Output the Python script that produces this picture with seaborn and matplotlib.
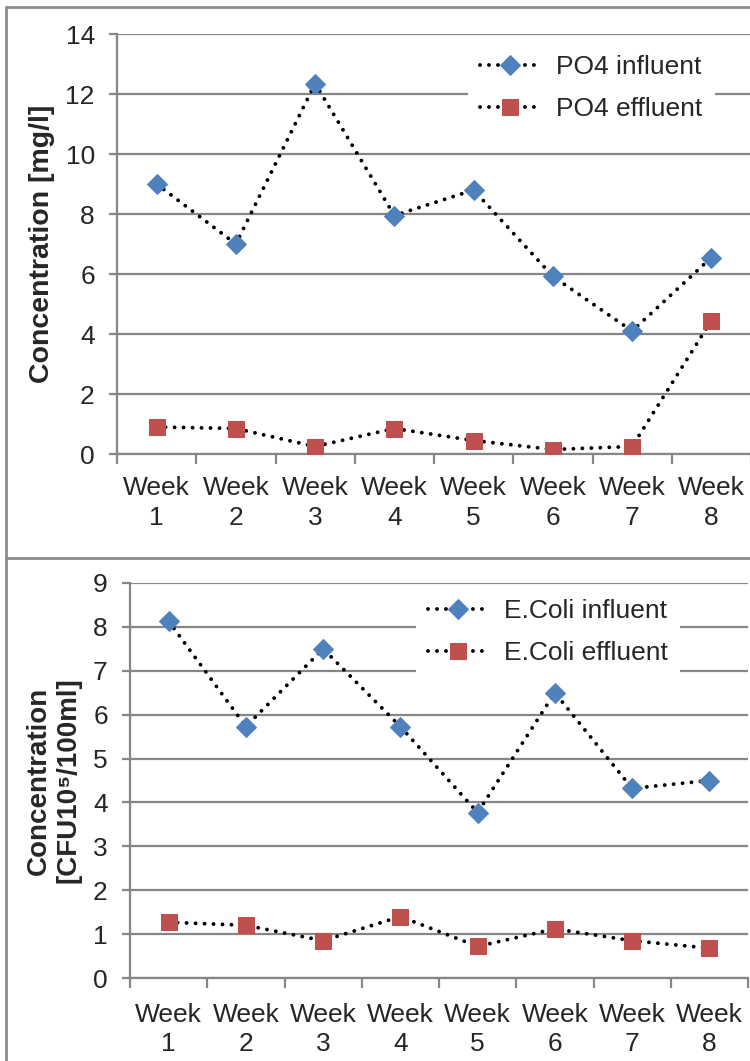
import matplotlib
matplotlib.use("Agg")
import matplotlib.pyplot as plt
import seaborn as sns
from matplotlib.lines import Line2D

sns.set_style("white")
plt.rcParams['font.family'] = ['Liberation Sans', 'DejaVu Sans']

weeks = ["Week\n1", "Week\n2", "Week\n3", "Week\n4", "Week\n5", "Week\n6", "Week\n7", "Week\n8"]
po4_influent = [9.0, 7.0, 12.35, 7.95, 8.8, 5.92, 4.1, 6.55]
po4_effluent = [0.9, 0.85, 0.25, 0.85, 0.45, 0.15, 0.25, 4.45]
ecoli_influent = [8.13, 5.73, 7.5, 5.73, 3.77, 6.5, 4.32, 4.5]
ecoli_effluent = [1.27, 1.2, 0.85, 1.4, 0.72, 1.12, 0.85, 0.68]

BLUE = "#4F81BD"
RED = "#C0504D"
GRID = "#868686"
FS = 19

fig = plt.figure(figsize=(7.5, 10.61), dpi=100)
W, H = 750, 1061

def fx(px):
    return px / W

def fy(py):
    return 1 - py / H

def make_panel(rect, infl, effl, labels, ymax, ystep, ylabel, ylfs, leg_anchor, ylabel_x, xpad):
    ax = fig.add_axes(rect)
    x = list(range(len(weeks)))
    for vals, col, mk, ms, lab in [(infl, BLUE, "D", 10.5, labels[0]), (effl, RED, "s", 11.5, labels[1])]:
        sns.lineplot(x=x, y=vals, ax=ax, color="black", linestyle=(0, (0.01, 2.3)),
                     linewidth=2.8, marker=mk, markersize=ms, markerfacecolor=col,
                     markeredgecolor=col, label=lab, dash_capstyle="round", zorder=3)
    ax.set_xlim(-0.5, len(weeks) - 0.5)
    ax.set_ylim(0, ymax)
    ax.set_yticks(range(0, ymax + 1, ystep))
    ax.yaxis.grid(True, color=GRID, linewidth=1.6)
    ax.xaxis.grid(False)
    ax.set_xticks([i - 0.5 for i in range(len(weeks) + 1)])
    ax.set_xticklabels([])
    ax.set_xticks(x, minor=True)
    ax.set_xticklabels(weeks, minor=True, fontsize=FS, linespacing=1.28)
    ax.tick_params(axis="x", which="major", length=7, width=1.6, color=GRID, direction="out", bottom=True)
    ax.tick_params(axis="x", which="minor", length=0, pad=xpad, bottom=True)
    ax.tick_params(axis="y", length=6, width=1.6, color=GRID, direction="out", left=True, labelsize=FS, pad=10)
    for s in ["top", "right"]:
        ax.spines[s].set_visible(False)
    for s in ["left", "bottom"]:
        ax.spines[s].set_color(GRID)
        ax.spines[s].set_linewidth(1.6)
    ax.set_ylabel("")
    fig.text(ylabel_x, rect[1] + rect[3] / 2, ylabel, rotation=90, fontsize=ylfs,
             fontweight="bold", ha="center", va="center", linespacing=1.2)
    leg = ax.legend(loc="upper left", bbox_to_anchor=leg_anchor, bbox_transform=fig.transFigure,
                    fontsize=FS, frameon=True, facecolor="white", edgecolor="none", framealpha=1,
                    handlelength=2.3, handletextpad=0.6, labelspacing=0.7, borderpad=0.45,
                    borderaxespad=0, fancybox=False)
    leg.set_zorder(5)
    return ax

make_panel([fx(117), fy(454), fx(751) - fx(117), fy(34) - fy(454)],
           po4_influent, po4_effluent, ["PO4 influent", "PO4 effluent"], 14, 2,
           "Concentration [mg/l]", 20.5, (fx(468), fy(43)), fx(42), 16)

make_panel([fx(130), fy(978), fx(748) - fx(130), fy(583) - fy(978)],
           ecoli_influent, ecoli_effluent, ["E.Coli influent", "E.Coli effluent"], 9, 1,
           "Concentration\n[CFU10\u2075/100ml]", 20, (fx(416), fy(587)), fx(54), 18)

# chart borders
bc = "#8C8C8C"
fig.add_artist(Line2D([fx(6), fx(6)], [fy(7), 0], color=bc, linewidth=2, transform=fig.transFigure))
fig.add_artist(Line2D([fx(6), 1], [fy(7), fy(7)], color=bc, linewidth=2, transform=fig.transFigure))
fig.add_artist(Line2D([fx(6), 1], [fy(558), fy(558)], color=bc, linewidth=2, transform=fig.transFigure))

fig.savefig("out.png", dpi=100)
